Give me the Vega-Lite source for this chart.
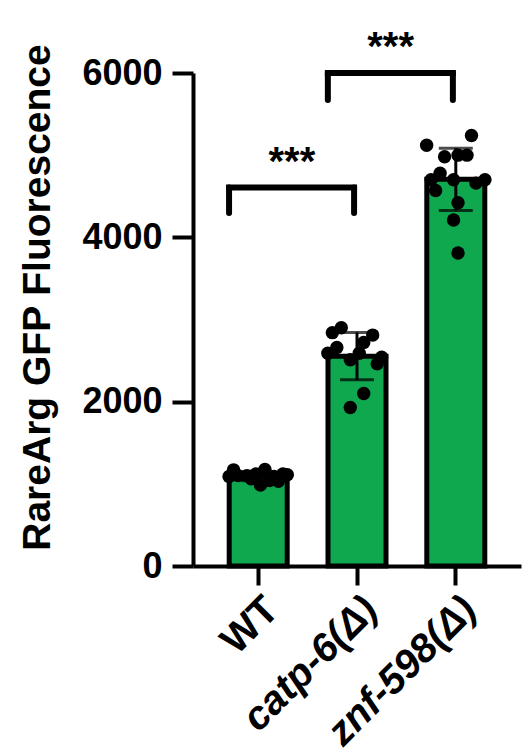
{
  "$schema": "https://vega.github.io/schema/vega-lite/v6.json",
  "width": 328,
  "height": 493,
  "autosize": "none",
  "padding": {"left": 193, "top": 73, "right": 11, "bottom": 190},
  "config": {"view": {"stroke": null}, "font": "Liberation Sans"},
  "datasets": {
    "points": [
      {"genotype": "WT", "rep": 1, "value": 1090},
      {"genotype": "WT", "rep": 2, "value": 1170},
      {"genotype": "WT", "rep": 3, "value": 1100},
      {"genotype": "WT", "rep": 5, "value": 1100},
      {"genotype": "WT", "rep": 6, "value": 1060},
      {"genotype": "WT", "rep": 7, "value": 1120},
      {"genotype": "WT", "rep": 8, "value": 985},
      {"genotype": "WT", "rep": 9, "value": 1175},
      {"genotype": "WT", "rep": 10, "value": 1040},
      {"genotype": "WT", "rep": 11, "value": 1090},
      {"genotype": "WT", "rep": 12, "value": 1030},
      {"genotype": "WT", "rep": 13, "value": 1120},
      {"genotype": "WT", "rep": 14, "value": 1110},
      {"genotype": "catp-6(Δ)", "rep": 2, "value": 2840},
      {"genotype": "catp-6(Δ)", "rep": 4, "value": 2900},
      {"genotype": "catp-6(Δ)", "rep": 11, "value": 2810},
      {"genotype": "catp-6(Δ)", "rep": 3, "value": 2660},
      {"genotype": "catp-6(Δ)", "rep": 9, "value": 2720},
      {"genotype": "catp-6(Δ)", "rep": 1, "value": 2590},
      {"genotype": "catp-6(Δ)", "rep": 6, "value": 2510},
      {"genotype": "catp-6(Δ)", "rep": 8, "value": 2590},
      {"genotype": "catp-6(Δ)", "rep": 13, "value": 2540},
      {"genotype": "catp-6(Δ)", "rep": 9, "value": 2100},
      {"genotype": "catp-6(Δ)", "rep": 6, "value": 1930},
      {"genotype": "catp-6(Δ)", "rep": 12, "value": 2460},
      {"genotype": "znf-598(Δ)", "rep": 1, "value": 5120},
      {"genotype": "znf-598(Δ)", "rep": 11, "value": 5240},
      {"genotype": "znf-598(Δ)", "rep": 5, "value": 4980},
      {"genotype": "znf-598(Δ)", "rep": 8, "value": 5000},
      {"genotype": "znf-598(Δ)", "rep": 10, "value": 5000},
      {"genotype": "znf-598(Δ)", "rep": 4, "value": 4780},
      {"genotype": "znf-598(Δ)", "rep": 2, "value": 4700},
      {"genotype": "znf-598(Δ)", "rep": 7, "value": 4700},
      {"genotype": "znf-598(Δ)", "rep": 12, "value": 4660},
      {"genotype": "znf-598(Δ)", "rep": 14, "value": 4700},
      {"genotype": "znf-598(Δ)", "rep": 3, "value": 4570},
      {"genotype": "znf-598(Δ)", "rep": 8, "value": 4420},
      {"genotype": "znf-598(Δ)", "rep": 7, "value": 4210},
      {"genotype": "znf-598(Δ)", "rep": 8, "value": 3810}
    ],
    "brackets": [
      {"from": "WT", "to": "catp-6(Δ)", "low": 4295, "high": 4605, "label": "***"},
      {"from": "catp-6(Δ)", "to": "znf-598(Δ)", "low": 5670, "high": 6000, "label": "***"}
    ]
  },
  "layer": [
    {
      "data": {"name": "points"},
      "mark": {"type": "bar", "fill": "#10A84F", "stroke": "black", "strokeWidth": 5, "width": 58},
      "encoding": {
        "x": {
          "field": "genotype", "type": "nominal", "title": null,
          "sort": ["WT", "catp-6(Δ)", "znf-598(Δ)"],
          "scale": {"paddingInner": 0.41, "paddingOuter": 0.365},
          "axis": {
            "title": null,
            "domainColor": "black", "domainWidth": 4,
            "tickColor": "black", "tickWidth": 4, "tickSize": 19,
            "labelAngle": -45,
            "labelLimit": 0,
            "labelFontSize": 40, "labelFontWeight": "bold",
            "labelFontStyle": {"condition": {"test": "datum.value == 'WT'", "value": "normal"}, "value": "italic"},
            "labelColor": "black", "labelPadding": 4
          }
        },
        "y": {
          "aggregate": "mean", "field": "value", "type": "quantitative",
          "title": "RareArg GFP Fluorescence",
          "scale": {"domain": [0, 6000], "nice": false},
          "axis": {
            "values": [0, 2000, 4000, 6000],
            "format": "d",
            "grid": false,
            "domainColor": "black", "domainWidth": 4,
            "tickColor": "black", "tickWidth": 4, "tickSize": 21,
            "labelFontSize": 36, "labelFontWeight": "bold", "labelColor": "black", "labelPadding": 10,
            "title": "RareArg GFP Fluorescence",
            "titleFontSize": 39, "titleFontWeight": "bold", "titleColor": "black",
            "titleX": -136, "titleY": 224, "titleAngle": -90, "titleAlign": "center", "titleBaseline": "bottom"
          }
        }
      }
    },
    {
      "data": {"name": "points"},
      "mark": {"type": "circle", "size": 180, "color": "black", "opacity": 1},
      "encoding": {
        "x": {"field": "genotype", "type": "nominal", "title": null, "sort": ["WT", "catp-6(Δ)", "znf-598(Δ)"]},
        "xOffset": {"field": "rep", "type": "ordinal", "scale": {"paddingInner": 0, "paddingOuter": 0}},
        "y": {"field": "value", "type": "quantitative", "title": "RareArg GFP Fluorescence"}
      }
    },
    {
      "data": {"name": "points"},
      "mark": {"type": "errorbar", "extent": "stdev", "color": "black", "thickness": 3, "ticks": {"size": 34, "thickness": 3, "color": "black"}},
      "encoding": {
        "x": {"field": "genotype", "type": "nominal", "title": null, "sort": ["WT", "catp-6(Δ)", "znf-598(Δ)"]},
        "y": {"field": "value", "type": "quantitative", "title": "RareArg GFP Fluorescence"}
      }
    },
    {
      "data": {"name": "brackets"},
      "mark": {"type": "rule", "strokeWidth": 6, "color": "black", "strokeCap": "square", "clip": false},
      "encoding": {
        "x": {"field": "from", "type": "nominal", "bandPosition": 0, "title": null},
        "x2": {"field": "to", "bandPosition": 0.45},
        "y": {"field": "high", "type": "quantitative", "title": "RareArg GFP Fluorescence"}
      }
    },
    {
      "data": {"name": "brackets"},
      "mark": {"type": "rule", "strokeWidth": 6, "color": "black", "strokeCap": "round", "clip": false},
      "encoding": {
        "x": {"field": "from", "type": "nominal", "bandPosition": 0, "title": null},
        "y": {"field": "low", "type": "quantitative", "title": "RareArg GFP Fluorescence"},
        "y2": {"field": "high"}
      }
    },
    {
      "data": {"name": "brackets"},
      "mark": {"type": "rule", "strokeWidth": 6, "color": "black", "strokeCap": "round", "clip": false},
      "encoding": {
        "x": {"field": "to", "type": "nominal", "bandPosition": 0.45, "title": null},
        "y": {"field": "low", "type": "quantitative", "title": "RareArg GFP Fluorescence"},
        "y2": {"field": "high"}
      }
    },
    {
      "data": {"name": "brackets"},
      "mark": {"type": "text", "fontSize": 40, "fontWeight": "bold", "color": "black", "baseline": "alphabetic", "align": "center", "dx": -36, "dy": -13},
      "encoding": {
        "x": {"field": "to", "type": "nominal", "bandPosition": 0, "title": null},
        "y": {"field": "high", "type": "quantitative", "title": "RareArg GFP Fluorescence"},
        "text": {"field": "label"}
      }
    }
  ]
}
